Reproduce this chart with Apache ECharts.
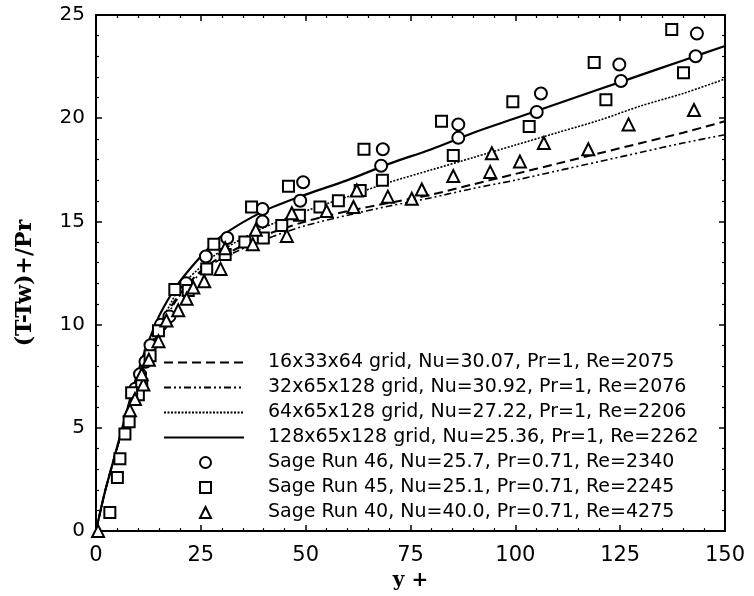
<!DOCTYPE html>
<html>
<head>
<meta charset="utf-8">
<script src="https://cdn.jsdelivr.net/npm/echarts@6/dist/echarts.min.js"></script>
<style>
  html, body { margin: 0; padding: 0; background: #fff; }
  #chart { width: 754px; height: 596px; }
</style>
</head>
<body>
<div id="chart"></div>
<script>
// y+ positions the simulated profiles are sampled at
const yPlus = [0, 2, 4, 6, 8, 10, 12, 15, 18, 20, 25, 30, 40, 50, 60, 70, 80, 90, 100, 110, 120, 130, 140, 150];

const grid16 = [0, 1.8, 3.3, 4.7, 6.0, 7.2, 8.3, 9.7, 10.9, 11.5, 12.6, 13.3, 14.3, 15.0, 15.5, 15.9, 16.3, 16.8, 17.3, 17.8, 18.3, 18.8, 19.3, 19.85];
const grid32 = [0, 1.8, 3.3, 4.7, 6.0, 7.2, 8.3, 9.7, 10.8, 11.4, 12.5, 13.2, 14.1, 14.8, 15.3, 15.75, 16.15, 16.6, 17.0, 17.45, 17.9, 18.35, 18.8, 19.2];
const grid64 = [0, 1.8, 3.3, 4.7, 6.1, 7.4, 8.5, 9.9, 11.1, 11.8, 12.8, 13.6, 14.7, 15.5, 16.2, 16.9, 17.5, 18.1, 18.7, 19.3, 19.9, 20.6, 21.2, 21.9];
const grid128 = [0, 1.8, 3.3, 4.8, 6.3, 7.7, 8.9, 10.4, 11.5, 12.1, 13.3, 14.3, 15.5, 16.3, 17.0, 17.8, 18.5, 19.3, 20.0, 20.7, 21.4, 22.1, 22.8, 23.5];

// Sage measurements [y+, (T-Tw)+/Pr]
const run46 = [[143.3, 24.1], [143, 23.0], [124.8, 22.6], [125.2, 21.8], [106.1, 21.2], [105.1, 20.3],
  [86.4, 19.7], [86.4, 19.05], [68.4, 18.5], [68, 17.7], [49.4, 16.9], [48.7, 16.0], [39.7, 15.6],
  [39.7, 15.0], [31.3, 14.2], [26.2, 13.3], [21.5, 12.0], [17.5, 10.4], [15.5, 10.0], [13, 9.0],
  [11.8, 8.2], [10.5, 7.6], [9.4, 6.9]];
const run45 = [[137.3, 24.3], [140.1, 22.2], [118.8, 22.7], [121.6, 20.9], [99.4, 20.8], [103.3, 19.6],
  [82.4, 19.85], [85.2, 18.2], [63.9, 18.5], [68.3, 17.0], [63, 16.5], [45.9, 16.7], [57.8, 16.0],
  [53.4, 15.7], [48.5, 15.3], [37.1, 15.7], [44.3, 14.8], [39.9, 14.2], [35.5, 14.0], [28.1, 13.9],
  [30.8, 13.4], [26.4, 12.7], [22.0, 11.65], [18.8, 11.7], [14.9, 9.7], [12.9, 8.5], [10.9, 7.1],
  [10.1, 6.6], [8.5, 6.7], [7.9, 5.3], [6.9, 4.7], [5.7, 3.5], [5.1, 2.6], [3.3, 0.9]];
const run40 = [[142.6, 20.4], [127, 19.7], [117.4, 18.5], [106.8, 18.8], [101.1, 17.9], [94.4, 18.3],
  [94, 17.4], [85.2, 17.2], [77.7, 16.55], [75.3, 16.1], [69.6, 16.2], [62.2, 16.5], [61.4, 15.7],
  [55, 15.5], [46.7, 15.4], [45.5, 14.3], [38.1, 14.6], [37.4, 13.9], [30.8, 13.7], [29.7, 12.7],
  [25.8, 12.1], [23.2, 11.8], [21.6, 11.25], [19.6, 10.7], [16.8, 10.2], [14.9, 9.2], [12.6, 8.3],
  [11.3, 7.1], [10.9, 7.6], [9.3, 6.4], [8.1, 5.85], [0.5, 0]];

const seriesNames = [
  '16x33x64 grid, Nu=30.07, Pr=1, Re=2075',
  '32x65x128 grid, Nu=30.92, Pr=1, Re=2076',
  '64x65x128 grid, Nu=27.22, Pr=1, Re=2206',
  '128x65x128 grid, Nu=25.36, Pr=1, Re=2262',
  'Sage Run 46, Nu=25.7, Pr=0.71, Re=2340',
  'Sage Run 45, Nu=25.1, Pr=0.71, Re=2245',
  'Sage Run 40, Nu=40.0, Pr=0.71, Re=4275'
];

const xTicks = [0, 25, 50, 75, 100, 125, 150];
const yTicks = [0, 5, 10, 15, 20, 25];

const chart = echarts.init(document.getElementById('chart'));

function pairs(ys) {
  return yPlus.map((x, i) => [x, ys[i]]);
}

function lineSeries(name, ys, type, width) {
  return {
    name: name,
    type: 'line',
    data: pairs(ys),
    showSymbol: false,
    symbol: 'none',
    smooth: 0.3,
    lineStyle: {color: '#000', width: width, type: type},
    itemStyle: {color: '#000'},
    z: 3
  };
}

function markSeries(name, data, symbol, size) {
  return {
    name: name,
    type: 'scatter',
    data: data,
    symbol: symbol,
    symbolSize: size,
    symbolKeepAspect: true,
    itemStyle: {color: '#fff', borderColor: '#000', borderWidth: 2, opacity: 1},
    z: 4
  };
}

const labelFont = 'DejaVu Sans, sans-serif';
const nameFont = 'DejaVu Serif, serif';

function frameAxis(extra) {
  return Object.assign({
    type: 'value',
    axisLine: {show: true, onZero: false, lineStyle: {color: '#000', width: 2}},
    axisTick: {show: true, inside: true, length: 6, lineStyle: {color: '#000', width: 1.5}},
    minorTick: {show: true, splitNumber: 5, length: 3, lineStyle: {color: '#000', width: 1.2}},
    splitLine: {show: false},
    axisLabel: {show: false}
  }, extra);
}

const legendText = {fontFamily: labelFont, fontSize: 19, lineHeight: 19, color: '#000'};

const option = {
  animation: false,
  backgroundColor: '#fff',
  grid: {left: 96, right: 29, top: 15, bottom: 63},
  legend: [
    {
      // the four simulations: line samples
      orient: 'vertical',
      left: 163,
      top: 353,
      padding: 0,
      itemWidth: 80,
      itemHeight: 11,
      itemGap: 6,
      data: seriesNames.slice(0, 4).map(n => ({name: n, itemStyle: {opacity: 0}})),
      textStyle: Object.assign({padding: [0, 0, 0, 19]}, legendText)
    },
    {
      // the three Sage runs: marker samples
      orient: 'vertical',
      left: 199,
      top: 453,
      padding: 0,
      itemWidth: 11,
      itemHeight: 11,
      itemGap: 6,
      data: seriesNames.slice(4),
      textStyle: Object.assign({padding: [0, 0, 0, 52]}, legendText)
    }
  ],
  xAxis: [
    frameAxis({
      min: 0, max: 150, interval: 25,
      position: 'bottom',
      name: 'y +',
      nameLocation: 'middle',
      nameGap: 36,
      nameTextStyle: {fontFamily: nameFont, fontWeight: 'bold', fontSize: 20, color: '#000'},
      axisLabel: {
        show: true, margin: 14, color: '#000', fontFamily: labelFont, fontSize: 21,
        formatter: v => (xTicks.indexOf(v) >= 0 ? String(v) : '')
      }
    }),
    frameAxis({min: 0, max: 150, interval: 25, position: 'top'})
  ],
  yAxis: [
    frameAxis({
      min: 0, max: 25, interval: 5,
      position: 'left',
      name: '(T-Tw)+/Pr',
      nameLocation: 'middle',
      nameGap: 60,
      nameTextStyle: {fontFamily: nameFont, fontWeight: 'bold', fontSize: 22, color: '#000', padding: [0, 20, 0, 0]},
      axisLabel: {
        show: true, margin: 11, color: '#000', fontFamily: labelFont, fontSize: 20,
        formatter: v => (yTicks.indexOf(v) >= 0 ? String(v) : '')
      }
    }),
    frameAxis({min: 0, max: 25, interval: 5, position: 'right'})
  ],
  series: [
    lineSeries(seriesNames[0], grid16, [9, 5], 2),
    lineSeries(seriesNames[1], grid32, [7, 3, 2, 3, 2, 3], 1.6),
    lineSeries(seriesNames[2], grid64, [2, 1.5], 1.6),
    lineSeries(seriesNames[3], grid128, 'solid', 2.2),
    markSeries(seriesNames[4], run46, 'circle', 12),
    markSeries(seriesNames[5], run45, 'rect', 11),
    markSeries(seriesNames[6], run40, 'triangle', 12)
  ]
};

chart.setOption(option);
</script>
</body>
</html>
